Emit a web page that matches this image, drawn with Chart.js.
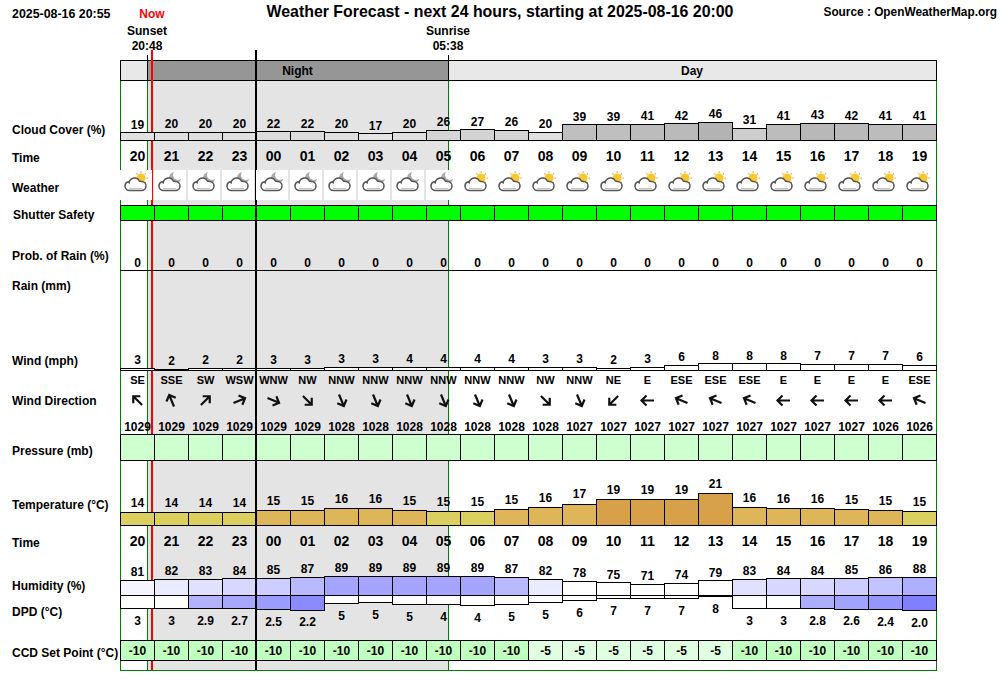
<!DOCTYPE html>
<html>
<head>
<meta charset="utf-8">
<title>Weather Forecast</title>
<style>
  html, body { margin: 0; padding: 0; background: #fff; }
  canvas { display: block; }
</style>
<script src="https://cdn.jsdelivr.net/npm/chart.js@4/dist/chart.umd.min.js"></script>
</head>
<body>
<canvas id="forecast" width="1000" height="680"></canvas>
<script>
const hours = ['20','21','22','23','00','01','02','03','04','05','06','07','08','09','10','11','12','13','14','15','16','17','18','19'];
const cloud = [19,20,20,20,22,22,20,17,20,26,27,26,20,39,39,41,42,46,31,41,43,42,41,41];
const sky = ['day','night','night','night','night','night','night','night','night','night','day','day','day','day','day','day','day','day','day','day','day','day','day','day'];
const shutter = [1,1,1,1,1,1,1,1,1,1,1,1,1,1,1,1,1,1,1,1,1,1,1,1];
const rainProb = [0,0,0,0,0,0,0,0,0,0,0,0,0,0,0,0,0,0,0,0,0,0,0,0];
const rain = [0,0,0,0,0,0,0,0,0,0,0,0,0,0,0,0,0,0,0,0,0,0,0,0];
const wind = [2.6,1.6,2.4,2.4,2.6,2.6,3.4,3.4,4,4,4,4,3.4,3.4,2.4,3.4,6,8,8,8,7,7,7,6];
const windDir = ['SE','SSE','SW','WSW','WNW','NW','NNW','NNW','NNW','NNW','NNW','NNW','NW','NNW','NE','E','ESE','ESE','ESE','E','E','E','E','ESE'];
const pressure = [1029,1029,1029,1029,1029,1029,1028,1028,1028,1028,1028,1028,1028,1027,1027,1027,1027,1027,1027,1027,1027,1027,1026,1026];
const temperature = [14.3,14.3,14.3,14.3,15,15,15.8,15.8,15,14.7,14.7,15.4,16.2,17.4,19.2,19.2,19.2,21.4,16.2,15.8,15.8,15.4,15,14.7];
const humidity = [81,82,83,84,85,87,89,89,89,89,89,87,82,78,75,71,74,79,83,84,84,85,86,88];
const dpd = [3,3,2.9,2.7,2.5,2.2,5,5.4,4.6,4.4,4.2,4.6,5.4,6.2,7.1,7.1,7.1,8,3,3,2.8,2.6,2.4,2];
const dpdLabels = ['3','3','2.9','2.7','2.5','2.2','5','5','5','4','4','5','5','6','7','7','7','8','3','3','2.8','2.6','2.4','2.0'];
const ccd = [-10,-10,-10,-10,-10,-10,-10,-10,-10,-10,-10,-10,-5,-5,-5,-5,-5,-5,-10,-10,-10,-10,-10,-10];

// marker times, in hours after the 20:00 start
const nowAt = 55 / 60;
const sunsetAt = 48 / 60;
const midnightAt = 4;
const sunriseAt = 9 + 38 / 60;

const rowLabels = [
  ['Cloud Cover (%)', 12, 130], ['Time', 12, 158], ['Weather', 12, 188], ['Shutter Safety', 13, 215],
  ['Prob. of Rain (%)', 12, 256], ['Rain (mm)', 12, 286], ['Wind (mph)', 12, 361], ['Wind Direction', 12, 401],
  ['Pressure (mb)', 12, 451], ['Temperature (\u00B0C)', 12, 505], ['Time', 12, 543], ['Humidity (%)', 12, 586],
  ['DPD (\u00B0C)', 12, 612], ['CCD Set Point (\u00B0C)', 12, 653]
];

const plotTop = 60.5;
const plotBottom = 670.5;

// each row gets its own hidden y scale: baseValue lands on pixel row basePx
function rowScale(basePx, pxPerUnit, baseValue) {
  return {
    type: 'linear',
    display: false,
    min: baseValue - (plotBottom - basePx) / pxPerUnit,
    max: baseValue + (basePx - plotTop) / pxPerUnit
  };
}

function rowBars(data, yAxisID, backgroundColor, base) {
  return {
    data, yAxisID, backgroundColor, base,
    borderColor: '#000',
    borderWidth: 1,
    borderSkipped: false,
    inflateAmount: 0,
    grouped: false,
    barThickness: 35,
    clip: false
  };
}

function cloudColor(v) {
  const g = Math.round(225 - (v - 19) * 1.7);
  return `rgb(${g},${g},${g})`;
}
function tempColor(v) {
  if (v < 14.8) return '#dbd05f';
  return v < 19 ? '#deb558' : '#d6a148';
}
function humidityColor(v) {
  const g = v <= 80 ? 255 : 255 - (v - 80) * 10;
  return `rgb(${g},${g},255)`;
}
function dpdColor(v) {
  const g = v >= 3 ? 255 : Math.round(128 + (v - 2) * 56);
  return `rgb(${g},${g},255)`;
}

function text(ctx, str, x, y, font, align, color) {
  ctx.font = font;
  ctx.textAlign = align || 'center';
  ctx.textBaseline = 'middle';
  ctx.fillStyle = color || '#000';
  ctx.fillText(str, x, y + 1);
}

function drawArrow(ctx, cx, cy, compass) {
  const names = ['N','NNE','NE','ENE','E','ESE','SE','SSE','S','SSW','SW','WSW','W','WNW','NW','NNW'];
  const angle = (names.indexOf(compass) * 22.5 + 180) * Math.PI / 180;
  ctx.save();
  ctx.translate(cx, cy);
  ctx.rotate(angle);
  ctx.strokeStyle = '#111';
  ctx.lineWidth = 2.2;
  ctx.beginPath();
  ctx.moveTo(0, 6.5);
  ctx.lineTo(0, -6);
  ctx.moveTo(-5, -1);
  ctx.lineTo(0, -6);
  ctx.lineTo(5, -1);
  ctx.stroke();
  ctx.restore();
}

function drawIcon(ctx, left, kind) {
  ctx.fillStyle = '#fff';
  ctx.fillRect(left, 170, 32, 30);
  if (kind === 'day') {
    ctx.fillStyle = '#f08c1e';
    for (let a = 0; a < 8; a++) {
      const r = a * Math.PI / 4;
      ctx.fillRect(left + 21 + Math.cos(r) * 6 - 0.5, 178 + Math.sin(r) * 6 - 0.5, 1.2, 1.2);
    }
    ctx.fillStyle = '#f7c92f';
    ctx.beginPath();
    ctx.arc(left + 21, 178, 4.6, 0, Math.PI * 2);
    ctx.fill();
  } else {
    ctx.fillStyle = '#a8a8a8';
    ctx.beginPath();
    ctx.arc(left + 21, 178, 6, 0, Math.PI * 2);
    ctx.fill();
    ctx.fillStyle = '#fff';
    ctx.beginPath();
    ctx.arc(left + 24, 175, 5, 0, Math.PI * 2);
    ctx.fill();
  }
  ctx.fillStyle = '#fff';
  ctx.strokeStyle = '#555';
  ctx.lineWidth = 1.5;
  ctx.beginPath();
  ctx.moveTo(left + 9.5, 190.5);
  ctx.arc(left + 9.5, 186, 4.5, Math.PI / 2, Math.PI * 1.4);
  ctx.arc(left + 14.5, 183.5, 5.5, Math.PI * 1.05, Math.PI * 1.85);
  ctx.arc(left + 21.5, 186, 4.5, Math.PI * 1.5, Math.PI / 2);
  ctx.closePath();
  ctx.fill();
  ctx.stroke();
  ctx.strokeStyle = '#c4c4c4';
  ctx.lineWidth = 1;
  ctx.beginPath();
  ctx.moveTo(left + 9, 188.5);
  ctx.lineTo(left + 22, 188.5);
  ctx.stroke();
}

const forecastPlugin = {
  id: 'forecast',
  beforeDraw(chart) {
    const { ctx, scales } = chart;
    const t = v => Math.floor(scales.hoursAxis.getPixelForValue(v));
    const left = 120, right = 936;
    ctx.save();
    ctx.fillStyle = '#fff';
    ctx.fillRect(0, 0, chart.width, chart.height);

    // night shading
    ctx.fillStyle = '#e4e4e4';
    ctx.fillRect(t(sunsetAt), 81, t(sunriseAt) - t(sunsetAt), 589);
    // frame below the header
    ctx.fillStyle = '#008000';
    ctx.fillRect(left, 81, 1, 590);
    ctx.fillRect(right, 81, 1, 590);
    ctx.fillRect(left, 670, right - left + 1, 1);
    ctx.fillRect(t(sunsetAt), 81, 1, 589);
    ctx.fillRect(t(sunriseAt), 81, 1, 589);

    // header band
    ctx.fillStyle = '#e8e8e8';
    ctx.fillRect(left, 60, right - left, 20);
    ctx.fillStyle = '#969696';
    ctx.fillRect(t(sunsetAt), 60, t(sunriseAt) - t(sunsetAt), 20);
    ctx.strokeStyle = '#000';
    ctx.lineWidth = 1;
    ctx.strokeRect(left + 0.5, 60.5, right - left, 20);
    ctx.fillStyle = '#000';
    ctx.fillRect(t(sunsetAt), 55, 1, 26);
    ctx.fillRect(t(sunriseAt), 55, 1, 26);

    ctx.fillStyle = '#f00';
    ctx.fillRect(t(nowAt), 50, 2, 620);
    ctx.restore();
  },
  beforeDatasetsDraw(chart) {
    // snap bars onto whole pixels so the outlines stay one pixel wide
    chart.data.datasets.forEach((ds, i) => {
      chart.getDatasetMeta(i).data.forEach(bar => {
        bar.y = Math.round(bar.y);
        bar.base = Math.round(bar.base);
        if (bar.y <= bar.base) bar.base += 1; else bar.y += 1;
      });
    });
  },
  afterDatasetsDraw(chart) {
    const { ctx, scales } = chart;
    const x = i => scales.x.getPixelForValue(i);
    const t = v => Math.floor(scales.hoursAxis.getPixelForValue(v));
    const bold = 'bold 12px "Liberation Sans", Arial, sans-serif';
    const dirFont = 'bold 11px "Liberation Sans", Arial, sans-serif';
    const timeFont = 'bold 14px "Liberation Sans", Arial, sans-serif';
    ctx.save();

    ctx.fillStyle = '#000';
    ctx.fillRect(t(midnightAt) - 1, 50, 2, 620);

    hours.forEach((h, i) => {
      const cx = x(i);
      drawIcon(ctx, cx - 17.5, sky[i]);
      text(ctx, String(cloud[i]), cx, scales.cloudAxis.getPixelForValue(cloud[i]) - 8, bold);
      text(ctx, h, cx, 156.5, timeFont);
      text(ctx, h, cx, 541.5, timeFont);
      text(ctx, String(rainProb[i]), cx, 262.5, bold);
      text(ctx, String(Math.round(wind[i])), cx, scales.windAxis.getPixelForValue(wind[i]) - 8, bold);
      text(ctx, windDir[i], cx, 379.5, dirFont);
      drawArrow(ctx, cx, 400.5, windDir[i]);
      text(ctx, String(pressure[i]), cx, 426.5, bold);
      text(ctx, String(Math.round(temperature[i])), cx, scales.tempAxis.getPixelForValue(temperature[i]) - 9.5, bold);
      text(ctx, String(humidity[i]), cx, scales.humidityAxis.getPixelForValue(humidity[i]) - 8, bold);
      text(ctx, dpdLabels[i], cx, scales.dpdAxis.getPixelForValue(dpd[i]) + 12.5, bold);
      text(ctx, String(ccd[i]), cx, 650.5, bold);
    });

    rowLabels.forEach(([label, lx, ly]) => text(ctx, label, lx, ly, bold, 'left'));

    text(ctx, 'Night', (t(sunsetAt) + t(sunriseAt)) / 2, 71, bold);
    text(ctx, 'Day', (t(sunriseAt) + 936) / 2, 71, bold);
    text(ctx, '2025-08-16 20:55', 12, 14, 'bold 12.4px "Liberation Sans", Arial, sans-serif', 'left');
    text(ctx, 'Now', t(nowAt) + 1, 14, bold, 'center', '#f00');
    text(ctx, 'Sunset', t(sunsetAt), 31, bold);
    text(ctx, '20:48', t(sunsetAt), 46, bold);
    text(ctx, 'Sunrise', t(sunriseAt), 31, bold);
    text(ctx, '05:38', t(sunriseAt), 46, bold);
    text(ctx, 'Weather Forecast - next 24 hours, starting at 2025-08-16 20:00', 500, 12, 'bold 15.9px "Liberation Sans", Arial, sans-serif');
    text(ctx, 'Source : OpenWeatherMap.org', 997, 12, 'bold 11.85px "Liberation Sans", Arial, sans-serif', 'right');
    ctx.restore();
  }
};

new Chart(document.getElementById('forecast').getContext('2d', { alpha: false }), {
  type: 'bar',
  data: {
    labels: hours,
    datasets: [
      rowBars(cloud, 'cloudAxis', cloud.map(cloudColor)),
      rowBars(shutter, 'shutterAxis', '#00ff00'),
      rowBars(rainProb, 'probAxis', '#fff'),
      rowBars(rain, 'windAxis', '#fff'),
      rowBars(wind, 'windAxis', '#fff'),
      rowBars(shutter, 'pressureAxis', '#ceffce'),
      rowBars(temperature, 'tempAxis', temperature.map(tempColor), 9.5),
      rowBars(humidity, 'humidityAxis', humidity.map(humidityColor), 46),
      rowBars(dpd, 'dpdAxis', dpd.map(dpdColor), 8.4),
      rowBars(ccd.map(() => 1), 'ccdAxis', ccd.map(v => v === -10 ? '#bfffbf' : '#e0ffe0'))
    ]
  },
  options: {
    responsive: false,
    animation: false,
    events: [],
    layout: { autoPadding: false, padding: { left: 120.5, right: 63.5, top: 60.5, bottom: 9.5 } },
    plugins: { legend: { display: false }, title: { display: false }, tooltip: { enabled: false } },
    scales: {
      x: { type: 'category', display: false, offset: true, grid: { display: false } },
      hoursAxis: { type: 'linear', axis: 'x', display: false, offset: false, min: 0, max: 24 },
      cloudAxis: rowScale(140, 0.4, 0),
      shutterAxis: rowScale(220, 15, 0),
      probAxis: rowScale(270, 1, 0),
      windAxis: rowScale(370, 0.85, 0),
      pressureAxis: rowScale(460, 26, 0),
      tempAxis: rowScale(525, 2.7, 9.5),
      humidityAxis: rowScale(595, 0.44, 46),
      dpdAxis: rowScale(595, 2.35, 8.4),
      ccdAxis: rowScale(660, 20, 0)
    }
  },
  plugins: [forecastPlugin]
});
</script>
</body>
</html>
